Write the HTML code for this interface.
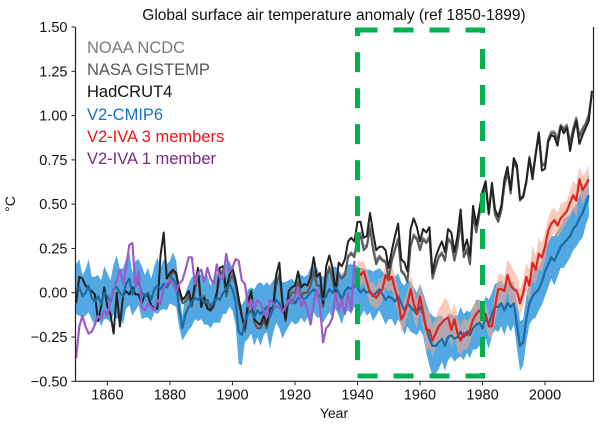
<!DOCTYPE html>
<html><head><meta charset="utf-8">
<style>
html,body{margin:0;padding:0;background:#fff;}
svg{display:block;font-family:"Liberation Sans","DejaVu Sans",sans-serif;}
</style></head>
<body>
<svg id="chart" width="600" height="425" viewBox="0 0 600 425" xmlns="http://www.w3.org/2000/svg">
<text x="334" y="20" text-anchor="middle" font-size="15.5" fill="#111">Global surface air temperature anomaly (ref 1850-1899)</text>
<g id="plot"></g>
<g id="axes"></g>
<g font-size="16.5">
<text x="87" y="53" fill="#7a7a7a">NOAA NCDC</text>
<text x="87" y="75" fill="#555">NASA GISTEMP</text>
<text x="87" y="97" fill="#111">HadCRUT4</text>
<text x="87" y="120" fill="#1470c4">V2-CMIP6</text>
<text x="87" y="142" fill="#f01414">V2-IVA 3 members</text>
<text x="87" y="164" fill="#7a2a82">V2-IVA 1 member</text>
</g>
<text x="15" y="204" font-size="14" fill="#111" transform="rotate(-90 15 204)" text-anchor="middle">°C</text>
<text x="334" y="418" font-size="14" fill="#111" text-anchor="middle">Year</text>
</svg>
<script>
const hadYears0 = 1850;
const hadcrut = [-0.06,0.09,0.08,0.04,0.02,0.01,-0.01,-0.16,-0.08,0.03,
-0.08,-0.12,-0.23,0.00,-0.19,-0.02,0.01,-0.01,0.03,-0.01,
-0.01,-0.06,-0.01,-0.02,-0.07,-0.09,-0.09,0.21,0.34,0.08,
0.11,0.13,0.11,0.02,-0.04,-0.02,0.01,-0.06,0.05,0.14,
-0.08,-0.03,-0.09,-0.10,-0.06,0.00,0.14,0.15,0.01,0.10,
0.14,0.07,-0.03,-0.13,-0.20,-0.05,0.01,-0.15,-0.17,-0.18,
-0.13,-0.18,-0.09,-0.08,0.10,0.17,-0.05,-0.15,0.01,0.03,
0.04,0.12,0.03,0.05,0.04,0.09,0.20,0.09,0.11,-0.06,
0.15,0.21,0.14,0.01,0.17,0.15,0.19,0.29,0.31,0.29,
0.40,0.40,0.31,0.32,0.45,0.34,0.24,0.26,0.26,0.24,
0.14,0.24,0.32,0.39,0.19,0.17,0.12,0.36,0.42,0.37,
0.29,0.36,0.34,0.37,0.11,0.20,0.25,0.29,0.23,0.36,
0.34,0.23,0.32,0.47,0.24,0.30,0.21,0.49,0.38,0.47,
0.57,0.63,0.45,0.62,0.47,0.43,0.49,0.64,0.71,0.58,
0.76,0.72,0.53,0.54,0.63,0.76,0.64,0.78,0.90,0.69,
0.70,0.85,0.89,0.88,0.83,0.94,0.90,0.93,0.80,0.90,
0.97,0.84,0.89,0.93,0.97,1.14];
const obsYear0 = 1880;
const nasa = [0.08,0.12,0.10,0.00,-0.06,-0.05,-0.02,-0.08,0.02,0.10,
-0.08,-0.02,-0.08,-0.10,-0.08,-0.02,0.10,0.12,-0.02,0.06,
0.10,0.04,-0.06,-0.14,-0.22,-0.10,-0.02,-0.17,-0.20,-0.20,
-0.16,-0.20,-0.12,-0.10,0.04,0.10,-0.06,-0.16,-0.04,0.00,
0.00,0.06,-0.02,0.00,0.00,0.04,0.12,0.04,0.04,-0.08,
0.08,0.14,0.08,-0.02,0.10,0.08,0.10,0.20,0.22,0.20,
0.30,0.32,0.24,0.26,0.36,0.24,0.16,0.20,0.18,0.17,
0.08,0.18,0.24,0.30,0.12,0.10,0.06,0.26,0.32,0.30,
0.24,0.30,0.28,0.31,0.08,0.14,0.20,0.22,0.18,0.30,
0.28,0.18,0.26,0.40,0.20,0.24,0.16,0.44,0.34,0.44,
0.54,0.60,0.44,0.60,0.44,0.40,0.46,0.60,0.68,0.56,
0.74,0.70,0.52,0.54,0.62,0.76,0.66,0.78,0.90,0.72,
0.72,0.86,0.90,0.90,0.86,0.94,0.92,0.94,0.84,0.92,
0.98,0.88,0.92,0.95,1.00,1.12];
const noaa = [0.10,0.13,0.11,0.02,-0.04,-0.04,-0.01,-0.07,0.03,0.11,
-0.06,-0.01,-0.07,-0.09,-0.07,-0.01,0.11,0.13,-0.01,0.07,
0.11,0.05,-0.05,-0.13,-0.20,-0.08,-0.01,-0.15,-0.18,-0.19,
-0.15,-0.18,-0.11,-0.09,0.05,0.11,-0.05,-0.14,-0.03,0.01,
0.01,0.07,-0.01,0.01,0.01,0.05,0.13,0.05,0.05,-0.07,
0.09,0.15,0.09,-0.01,0.11,0.09,0.11,0.21,0.23,0.21,
0.32,0.34,0.26,0.27,0.38,0.26,0.18,0.21,0.19,0.18,
0.09,0.19,0.25,0.31,0.13,0.11,0.07,0.27,0.33,0.31,
0.25,0.31,0.29,0.32,0.09,0.15,0.21,0.23,0.19,0.31,
0.29,0.19,0.27,0.41,0.21,0.25,0.17,0.45,0.35,0.45,
0.55,0.61,0.45,0.61,0.45,0.41,0.47,0.61,0.69,0.57,
0.75,0.71,0.53,0.55,0.63,0.77,0.67,0.79,0.91,0.73,
0.73,0.87,0.91,0.91,0.87,0.95,0.93,0.95,0.85,0.93,
0.99,0.89,0.93,0.96,1.01,1.13];
const modelYear0 = 1850;
const cmip = [0.02,0.03,-0.02,0.00,0.04,-0.03,-0.05,-0.02,-0.06,0.00,
-0.02,-0.05,0.02,0.03,0.00,-0.02,0.05,0.08,-0.01,0.04,
0.06,0.00,-0.02,0.00,-0.04,0.02,0.04,0.02,0.05,0.03,
0.06,0.08,0.05,-0.10,-0.20,-0.12,-0.08,-0.05,-0.03,-0.04,
-0.02,-0.06,-0.04,-0.08,-0.05,-0.03,-0.04,0.00,0.02,0.05,
0.02,-0.05,-0.22,-0.24,-0.16,-0.12,-0.10,-0.14,-0.10,-0.12,
-0.10,-0.08,-0.14,-0.08,-0.04,-0.06,-0.10,-0.08,-0.06,-0.04,
-0.06,-0.03,-0.02,-0.04,-0.02,0.00,0.02,0.00,-0.02,-0.04,
-0.02,0.02,0.00,0.03,0.00,-0.04,0.01,0.03,0.02,0.04,
0.03,0.00,0.02,0.00,0.01,-0.02,0.00,0.02,-0.01,-0.04,
-0.02,-0.03,-0.05,-0.02,-0.06,-0.10,-0.06,-0.08,-0.10,-0.12,
-0.08,-0.12,-0.20,-0.26,-0.30,-0.30,-0.28,-0.26,-0.30,-0.25,
-0.24,-0.26,-0.25,-0.22,-0.25,-0.22,-0.24,-0.20,-0.18,-0.17,
-0.20,-0.14,-0.18,-0.12,-0.08,-0.08,-0.06,-0.10,-0.06,-0.08,
-0.06,-0.18,-0.30,-0.28,-0.15,-0.06,-0.02,0.00,0.02,0.06,
0.12,0.16,0.20,0.18,0.22,0.26,0.28,0.30,0.32,0.36,
0.38,0.42,0.45,0.50,0.55];
const cmipSpread = [0.14,0.16,0.12,0.13,0.15,0.12,0.14,0.12,0.13,0.15,
0.13,0.12,0.14,0.18,0.13,0.16,0.14,0.15,0.12,0.14,
0.13,0.15,0.12,0.14,0.12,0.13,0.16,0.12,0.14,0.13,
0.12,0.15,0.13,0.10,0.07,0.12,0.13,0.14,0.12,0.12,
0.13,0.12,0.14,0.12,0.12,0.14,0.13,0.12,0.14,0.13,
0.12,0.13,0.18,0.17,0.12,0.14,0.13,0.16,0.15,0.18,
0.14,0.14,0.18,0.15,0.13,0.14,0.16,0.14,0.13,0.12,
0.12,0.14,0.12,0.13,0.12,0.14,0.13,0.14,0.12,0.13,
0.12,0.13,0.14,0.12,0.13,0.14,0.12,0.13,0.14,0.12,
0.12,0.14,0.12,0.13,0.12,0.14,0.13,0.12,0.13,0.14,
0.13,0.12,0.14,0.13,0.12,0.14,0.13,0.14,0.13,0.12,
0.13,0.12,0.14,0.15,0.17,0.16,0.15,0.13,0.14,0.13,
0.12,0.13,0.12,0.14,0.13,0.12,0.13,0.12,0.14,0.13,
0.12,0.12,0.14,0.12,0.13,0.14,0.13,0.14,0.12,0.14,
0.12,0.13,0.14,0.13,0.13,0.12,0.13,0.14,0.12,0.13,
0.14,0.13,0.12,0.14,0.13,0.12,0.14,0.13,0.12,0.12,
0.12,0.13,0.14,0.12,0.12];
const ivaYear0 = 1940;
const iva3 = [0.13,0.10,0.12,0.06,0.00,-0.01,-0.03,0.00,0.02,0.10,
0.07,0.09,0.02,-0.04,-0.15,-0.12,-0.06,0.02,-0.06,-0.12,
-0.02,-0.11,-0.21,-0.21,-0.27,-0.23,-0.19,-0.17,-0.15,-0.14,
-0.21,-0.15,-0.23,-0.27,-0.23,-0.24,-0.21,-0.15,-0.12,-0.10,
-0.12,-0.12,-0.19,-0.19,-0.08,0.02,0.02,0.01,0.10,0.04,
0.02,0.01,-0.06,0.00,0.09,0.04,0.17,0.13,0.22,0.20,
0.26,0.35,0.39,0.41,0.38,0.42,0.44,0.46,0.51,0.55,
0.52,0.64,0.58,0.61,0.64];
const iva3Spread = [0.06,0.07,0.06,0.07,0.06,0.07,0.06,0.08,0.06,0.07,
0.06,0.07,0.08,0.07,0.07,0.08,0.07,0.08,0.09,0.08,
0.08,0.09,0.12,0.10,0.09,0.08,0.10,0.11,0.12,0.09,
0.10,0.09,0.10,0.08,0.09,0.08,0.07,0.08,0.07,0.06,
0.06,0.07,0.06,0.07,0.09,0.08,0.09,0.08,0.09,0.12,
0.10,0.09,0.08,0.07,0.08,0.09,0.10,0.08,0.09,0.08,
0.08,0.07,0.08,0.07,0.07,0.08,0.07,0.06,0.07,0.08,
0.09,0.07,0.08,0.07,0.08];
const iva1Year0 = 1850;
const iva1 = [-0.37,-0.19,-0.13,-0.19,-0.23,-0.22,-0.18,-0.13,-0.15,-0.10,
-0.13,-0.04,0.01,0.07,0.13,0.05,0.14,0.27,0.28,0.03,
0.12,-0.08,-0.10,-0.06,-0.08,-0.10,-0.04,-0.06,0.03,0.05,
0.07,0.05,0.01,0.05,0.07,0.13,0.20,0.20,0.05,0.11,
0.13,0.06,0.14,0.08,0.05,0.16,0.08,0.08,0.22,0.12,
0.14,0.19,0.18,0.07,0.05,-0.08,-0.04,-0.10,-0.04,-0.06,
-0.10,-0.14,-0.04,-0.06,-0.08,-0.08,-0.11,-0.08,-0.04,-0.06,
-0.02,0.03,-0.08,-0.04,-0.10,-0.18,-0.06,0.02,-0.08,-0.28,
-0.20,-0.18,-0.14,0.00,-0.10,-0.04,-0.12,0.00,-0.10,0.18];
const xTicks = [1860,1880,1900,1920,1940,1960,1980,2000];
const yTicks = [-0.50,-0.25,0.00,0.25,0.50,0.75,1.00,1.25,1.50];

const NS='http://www.w3.org/2000/svg';
const L=75.5,R=593.5,T=27,B=381.3;
const xMin=1849.8,xMax=2015.5,yMin=-0.5,yMax=1.5;
function X(yr){return L+(yr-xMin)/(xMax-xMin)*(R-L);}
function Y(v){return B-(v-yMin)/(yMax-yMin)*(B-T);}
const plot=document.getElementById('plot');
const axes=document.getElementById('axes');
function mk(tag,attrs,parent){const e=document.createElementNS(NS,tag);for(const k in attrs)e.setAttribute(k,attrs[k]);parent.appendChild(e);return e;}
function linePath(arr,y0){return arr.map((v,i)=>(i?'L':'M')+X(y0+i).toFixed(1)+','+Y(v).toFixed(1)).join('');}
function bandPath(arr,spread,y0){let up=arr.map((v,i)=>(i?'L':'M')+X(y0+i).toFixed(1)+','+Y(v+spread[i]).toFixed(1)).join('');
let dn='';for(let i=arr.length-1;i>=0;i--)dn+='L'+X(y0+i).toFixed(1)+','+Y(arr[i]-spread[i]).toFixed(1);return up+dn+'Z';}

const clip=mk('clipPath',{id:'pc'},plot);mk('rect',{x:L,y:T,width:R-L,height:B-T},clip);
const g=mk('g',{'clip-path':'url(#pc)'},plot);

const cb=mk('path',{d:bandPath(cmip,cmipSpread,modelYear0),fill:'#3f9fe0',opacity:'0.9'},g);


const rb=mk('path',{d:bandPath(iva3,iva3Spread,ivaYear0),fill:'#f7a98a',opacity:'0.6'},g);



const l1=mk('path',{d:linePath(noaa,obsYear0),fill:'none',stroke:'#8a8a8a','stroke-width':'2','stroke-linejoin':'round'},g);


const l2=mk('path',{d:linePath(nasa,obsYear0),fill:'none',stroke:'#5a5a5a','stroke-width':'2','stroke-linejoin':'round'},g);


const l3=mk('path',{d:linePath(hadcrut,hadYears0),fill:'none',stroke:'#222','stroke-width':'2','stroke-linejoin':'round'},g);


const l4=mk('path',{d:linePath(cmip,modelYear0),fill:'none',stroke:'#1f6aa3','stroke-width':'2.2','stroke-linejoin':'round'},g);


const l5=mk('path',{d:linePath(iva1,iva1Year0),fill:'none',stroke:'#9b5cc8','stroke-width':'2.2','stroke-linejoin':'round'},g);


const l6=mk('path',{d:linePath(iva3,ivaYear0),fill:'none',stroke:'#e02424','stroke-width':'2.2','stroke-linejoin':'round'},g);



const box=mk('rect',{x:X(1940),y:30,width:X(1980)-X(1940),height:346,fill:'none',stroke:'#00b04f','stroke-width':'5','stroke-dasharray':'20,16'},plot);



mk('path',{d:`M${L},${T}V${B}H${R}V${T}`,fill:'none',stroke:'#222','stroke-width':'1.2'},axes);
xTicks.forEach(t=>{
  const tk=mk('line',{x1:X(t),x2:X(t),y1:B,y2:B+4,stroke:'#222','stroke-width':'1'},axes);
  
  
  const tx=mk('text',{x:X(t),y:B+18,'text-anchor':'middle','font-size':'14.5',fill:'#111'},axes);
  tx.textContent=t;
  
  
});
yTicks.forEach(t=>{
  const tk=mk('line',{x1:L-4,x2:L,y1:Y(t),y2:Y(t),stroke:'#222','stroke-width':'1'},axes);
  
  
  const tx=mk('text',{x:L-8,y:Y(t)+5,'text-anchor':'end','font-size':'14.5',fill:'#111'},axes);
  tx.textContent=(t<0?'\u2212'+Math.abs(t).toFixed(2):t.toFixed(2));
  
  
});
</script>
</body></html>
